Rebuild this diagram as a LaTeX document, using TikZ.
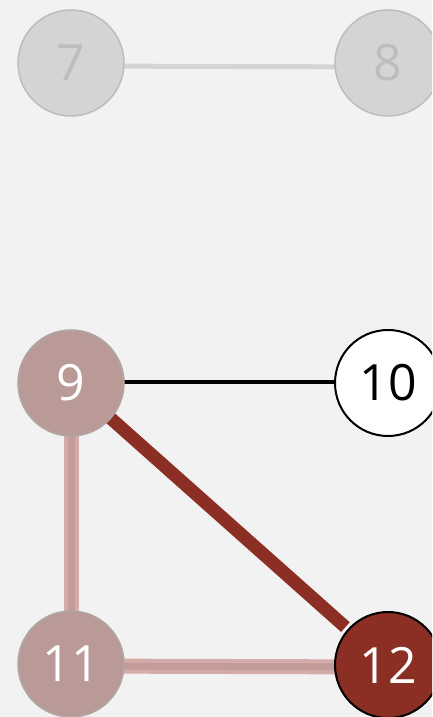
\documentclass[tikz,border=0pt]{standalone}
\usepackage{fontspec}
\setmainfont{Open Sans}
\usetikzlibrary{backgrounds}
\definecolor{bg}{HTML}{F2F2F2}
\definecolor{ghostfill}{HTML}{D4D4D4}
\definecolor{ghostline}{HTML}{BDBDBD}
\definecolor{pinkfill}{HTML}{BA9A97}
\definecolor{pinkline}{HTML}{AFA6A5}
\definecolor{darkred}{HTML}{8B2E23}
\definecolor{pinkedge}{HTML}{D4ABA8}
\definecolor{pinkinner}{HTML}{C39C99}
\begin{document}
\begin{tikzpicture}[x=1pt,y=1pt,
  vtx/.style={circle,minimum size=106pt,inner sep=0pt,line width=1.5pt,font=\fontsize{50}{54}\selectfont},
  ghost/.style={vtx,draw=ghostline,fill=ghostfill,text=ghostline},
  pinkv/.style={vtx,draw=pinkline,fill=pinkfill,text=white},
  whitev/.style={vtx,draw=black,fill=white,text=black,line width=2pt},
  redv/.style={vtx,draw=black,fill=darkred,text=white,line width=2pt},
  ghostedge/.style={draw=ghostfill,line width=5pt},
  blackedge/.style={draw=black,line width=4pt},
  rededge/.style={draw=darkred,line width=13pt},
  pinkouter/.style={draw=pinkedge,line width=15pt},
  pinkinnerl/.style={draw=pinkinner,line width=7pt}]
\useasboundingbox (0,0) rectangle (432,717);
\clip (0,0) rectangle (432,717);
% nodes
\node[ghost] (n7) at (71,654) {7};
\node[ghost] (n8) at (388,654) {8};
\node[pinkv] (n9) at (71,334) {9};
\node[whitev] (n10) at (388,334) {10};
\node[pinkv] (n11) at (71,53) {11};
\node[redv] (n12) at (388,52) {12};
% edges
\begin{scope}[on background layer]
\fill[bg] (0,0) rectangle (432,717);
\path[ghostedge] ([yshift=-3pt]n7.center) -- ([yshift=-4pt]n8.center);
\path[blackedge] ([yshift=1pt]n9.center) -- ([yshift=1pt]n10.center);
\path[pinkouter] (n9.center) -- (n11.center);
\path[pinkinnerl] (n9.center) -- (n11.center);
\path[pinkouter] ([yshift=-2pt]n11.center) -- ([yshift=-2pt]n12.center);
\path[pinkinnerl] ([yshift=-2pt]n11.center) -- ([yshift=-2pt]n12.center);
\path[rededge,shorten >=3pt] (n9.center) -- (n12);
\end{scope}
\end{tikzpicture}
\end{document}
